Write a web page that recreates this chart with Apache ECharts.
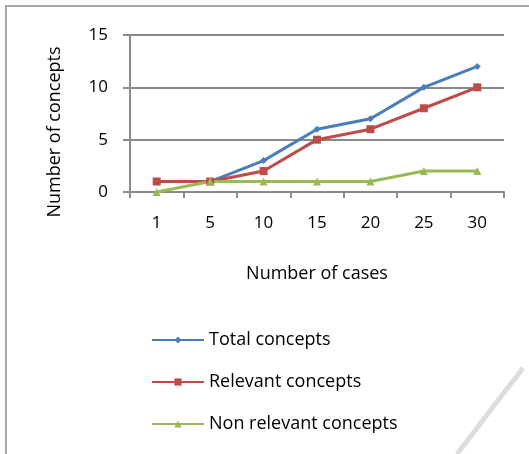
<!DOCTYPE html>
<html>
<head>
<meta charset="utf-8">
<script src="https://cdn.jsdelivr.net/npm/echarts@6/dist/echarts.min.js"></script>
<style>html,body{margin:0;padding:0;background:#fff;}#c{width:529px;height:454px;}</style>
</head>
<body>
<div id="c"></div>
<script>
var categories = ['1', '5', '10', '15', '20', '25', '30'];
var totalConcepts = [1, 1, 3, 6, 7, 10, 12];
var relevantConcepts = [1, 1, 2, 5, 6, 8, 10];
var nonRelevantConcepts = [0, 1, 1, 1, 1, 2, 2];
var seriesNames = ['Total concepts', 'Relevant concepts', 'Non relevant concepts'];
var xTitle = 'Number of cases';
var yTitle = 'Number of concepts';

var FONT = '"Open Sans", sans-serif';
var axisGray = '#8a8a8a';
var chart = echarts.init(document.getElementById('c'));
function mkSeries(name, data, color, symbol, size) {
  return {
    name: name, type: 'line', data: data,
    symbol: symbol, symbolSize: size,
    lineStyle: {color: color, width: 3},
    itemStyle: {color: color},
    animation: false
  };
}
chart.setOption({
  animation: false,
  textStyle: {fontFamily: FONT},
  grid: {left: 130, right: 25, top: 35, bottom: 262},
  xAxis: {
    type: 'category', data: categories, boundaryGap: true,
    name: xTitle, nameLocation: 'middle', nameGap: 73,
    nameTextStyle: {fontSize: 18, color: '#000', fontFamily: FONT},
    axisLine: {lineStyle: {color: axisGray, width: 2}},
    axisTick: {show: true, length: 6, alignWithLabel: false, lineStyle: {color: axisGray, width: 2}},
    axisLabel: {fontSize: 17, color: '#000', margin: 23, fontFamily: FONT}
  },
  yAxis: {
    type: 'value', min: 0, max: 15, interval: 5,
    axisLine: {show: true, lineStyle: {color: axisGray, width: 2}},
    axisTick: {show: true, length: 7, lineStyle: {color: axisGray, width: 2}},
    splitLine: {lineStyle: {color: axisGray, width: 2}},
    axisLabel: {fontSize: 17, color: '#000', margin: 22, fontFamily: FONT}
  },
  legend: {
    orient: 'vertical', left: 146, top: 326,
    itemWidth: 52, itemHeight: 9, itemGap: 24,
    textStyle: {fontSize: 18, color: '#000', fontFamily: FONT},
    data: seriesNames
  },
  graphic: [
    {type: 'text', x: 55, y: 132, rotation: Math.PI / 2,
     style: {text: yTitle, font: '18px ' + FONT, fill: '#000', align: 'center', verticalAlign: 'middle'}},
    {type: 'line', shape: {x1: 6, y1: 5, x2: 6, y2: 454}, style: {stroke: '#a6a6a6', lineWidth: 2}},
    {type: 'line', shape: {x1: 5, y1: 6, x2: 529, y2: 6}, style: {stroke: '#a6a6a6', lineWidth: 2}},
    {type: 'line', shape: {x1: 523, y1: 368, x2: 457, y2: 454}, style: {stroke: '#dcdcdc', lineWidth: 5}}
  ],
  series: [
    mkSeries(seriesNames[0], totalConcepts, '#4A7EBB', 'diamond', 7),
    mkSeries(seriesNames[1], relevantConcepts, '#BE4B48', 'rect', 8),
    mkSeries(seriesNames[2], nonRelevantConcepts, '#98B954', 'triangle', 8)
  ]
});
</script>
</body>
</html>
